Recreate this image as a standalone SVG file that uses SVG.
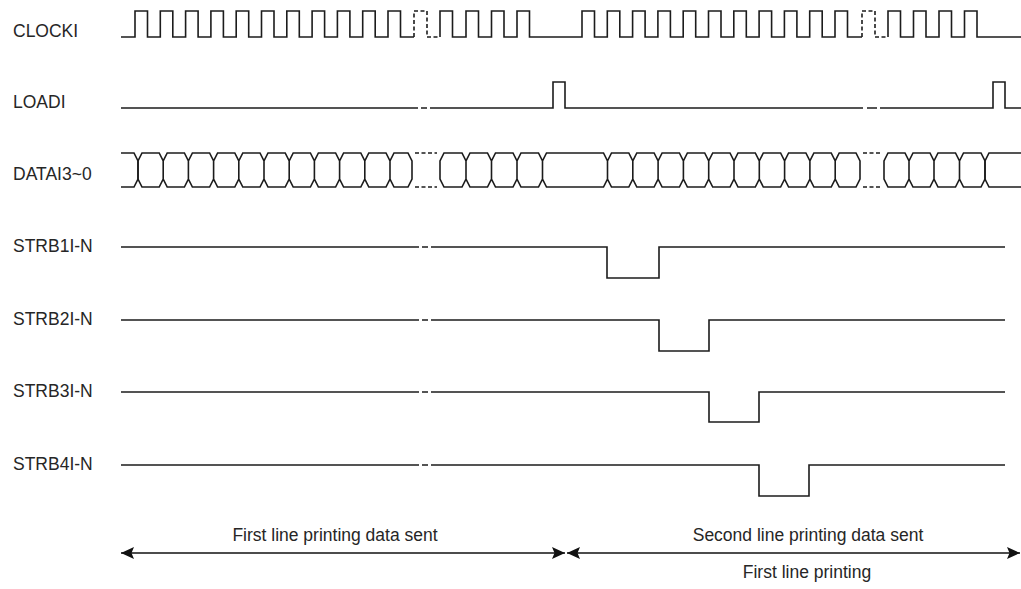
<svg xmlns="http://www.w3.org/2000/svg" width="1021" height="589" viewBox="0 0 1021 589">
<defs>
<style>
.lbl{font-family:"Liberation Sans",Arial,sans-serif;font-size:17.5px;fill:#262626}
.sig{fill:none;stroke:#1c1c1c;stroke-width:1.6;stroke-linejoin:miter}
.dash{fill:none;stroke:#1c1c1c;stroke-width:1.6;stroke-dasharray:4 2.5}
.arr{fill:none;stroke:#111;stroke-width:1.6}
</style>
<marker id="ah" markerWidth="14" markerHeight="12" refX="13" refY="6" orient="auto-start-reverse" markerUnits="userSpaceOnUse">
<path d="M0,0 L13,6 L0,12 L2.5,6 Z" fill="#111"/>
</marker>
</defs>
<rect width="1021" height="589" fill="#fff"/>

<g id="clocki">
<text class="lbl" x="13" y="37">CLOCKI</text>
<path class="sig" d="M121,37 H135 V11 H147.5 V37 H160.3 V11 H172.8 V37 H185.6 V11 H198.1 V37 H210.9 V11 H223.4 V37 H236.2 V11 H248.7 V37 H261.5 V11 H274 V37 H286.8 V11 H299.3 V37 H312.1 V11 H324.6 V37 H337.4 V11 H349.9 V37 H362.7 V11 H375.2 V37 H388 V11 H400.5 V37 H414"/>
<path class="dash" d="M414,37 V11 H427 V37 H440"/>
<path class="sig" d="M440,37 V11 H452.5 V37 H466 V11 H478.5 V37 H491.5 V11 H504 V37 H517 V11 H529.5 V37 H582 V11 H594.5 V37 H607.3 V11 H619.8 V37 H632.6 V11 H645.1 V37 H657.9 V11 H670.4 V37 H683.2 V11 H695.7 V37 H708.5 V11 H721 V37 H733.8 V11 H746.3 V37 H759.1 V11 H771.6 V37 H784.4 V11 H796.9 V37 H809.7 V11 H822.2 V37 H835 V11 H847.5 V37 H862"/>
<path class="dash" d="M862,37 V11 H875 V37 H888"/>
<path class="sig" d="M888,37 V11 H900.5 V37 H913.5 V11 H926 V37 H939 V11 H951.5 V37 H964.5 V11 H977 V37 H1021"/>
</g>

<g id="loadi">
<text class="lbl" x="13" y="108">LOADI</text>
<path class="sig" d="M121,108 H418 M421,108 H427 M430,108 H553 V82 H565 V108 H863 M867,108 H877 M880,108 H993 V82 H1005 V108 H1021"/>
</g>

<g id="datai">
<text class="lbl" x="13" y="180">DATAI3~0</text>
<path class="sig" d="M121,153 H134 L138,161 V179 L134,187 H121"/>
<path class="sig" d="M142,153 H159.2 L163.2,161 V179 L159.2,187 H142 L138,179 V161Z M167.2,153 H184.4 L188.4,161 V179 L184.4,187 H167.2 L163.2,179 V161Z M192.4,153 H209.6 L213.6,161 V179 L209.6,187 H192.4 L188.4,179 V161Z M217.6,153 H234.8 L238.8,161 V179 L234.8,187 H217.6 L213.6,179 V161Z M242.8,153 H260 L264,161 V179 L260,187 H242.8 L238.8,179 V161Z M268,153 H285.2 L289.2,161 V179 L285.2,187 H268 L264,179 V161Z M293.2,153 H310.4 L314.4,161 V179 L310.4,187 H293.2 L289.2,179 V161Z M318.4,153 H335.6 L339.6,161 V179 L335.6,187 H318.4 L314.4,179 V161Z M343.6,153 H360.8 L364.8,161 V179 L360.8,187 H343.6 L339.6,179 V161Z M368.8,153 H386 L390,161 V179 L386,187 H368.8 L364.8,179 V161Z M394,153 H408 L412,161 V179 L408,187 H394 L390,179 V161Z"/>
<path class="dash" d="M415,153 H437 M415,187 H437"/>
<path class="sig" d="M444,153 H462 L466,161 V179 L462,187 H444 L440,179 V161Z M470,153 H487.5 L491.5,161 V179 L487.5,187 H470 L466,179 V161Z M495.5,153 H513 L517,161 V179 L513,187 H495.5 L491.5,179 V161Z M521,153 H538.5 L542.5,161 V179 L538.5,187 H521 L517,179 V161Z M546.5,153 H603.5 L607.5,161 V179 L603.5,187 H546.5 L542.5,179 V161Z M611.5,153 H628.8 L632.8,161 V179 L628.8,187 H611.5 L607.5,179 V161Z M636.8,153 H654.1 L658.1,161 V179 L654.1,187 H636.8 L632.8,179 V161Z M662.1,153 H679.4 L683.4,161 V179 L679.4,187 H662.1 L658.1,179 V161Z M687.4,153 H704.7 L708.7,161 V179 L704.7,187 H687.4 L683.4,179 V161Z M712.7,153 H730 L734,161 V179 L730,187 H712.7 L708.7,179 V161Z M738,153 H755.3 L759.3,161 V179 L755.3,187 H738 L734,179 V161Z M763.3,153 H780.6 L784.6,161 V179 L780.6,187 H763.3 L759.3,179 V161Z M788.6,153 H805.9 L809.9,161 V179 L805.9,187 H788.6 L784.6,179 V161Z M813.9,153 H831.2 L835.2,161 V179 L831.2,187 H813.9 L809.9,179 V161Z M839.2,153 H856 L860,161 V179 L856,187 H839.2 L835.2,179 V161Z"/>
<path class="dash" d="M863,153 H881 M863,187 H881"/>
<path class="sig" d="M888,153 H905 L909,161 V179 L905,187 H888 L884,179 V161Z M913,153 H930 L934,161 V179 L930,187 H913 L909,179 V161Z M938,153 H955.5 L959.5,161 V179 L955.5,187 H938 L934,179 V161Z M963.5,153 H981 L985,161 V179 L981,187 H963.5 L959.5,179 V161Z"/>
<path class="sig" d="M1021,153 H989 L985,161 V179 L989,187 H1021"/>
</g>

<g id="strb1">
<text class="lbl" x="13" y="252">STRB1I-N</text>
<path class="sig" d="M121,247 H419 M422,247 H428 M431,247 H607 V278 H659 V247 H1005"/>
</g>
<g id="strb2">
<text class="lbl" x="13" y="325">STRB2I-N</text>
<path class="sig" d="M121,320 H419 M422,320 H428 M431,320 H659 V351 H709 V320 H1005"/>
</g>
<g id="strb3">
<text class="lbl" x="13" y="397">STRB3I-N</text>
<path class="sig" d="M121,392 H419 M422,392 H428 M431,392 H709 V422 H759 V392 H1005"/>
</g>
<g id="strb4">
<text class="lbl" x="13" y="470">STRB4I-N</text>
<path class="sig" d="M121,465 H419 M422,465 H428 M431,465 H759 V496 H809 V465 H1005"/>
</g>

<g id="connectors">
<line class="arr" x1="121" y1="553" x2="565" y2="553" marker-start="url(#ah)" marker-end="url(#ah)"/>
<line class="arr" x1="567" y1="553" x2="1020" y2="553" marker-start="url(#ah)" marker-end="url(#ah)"/>
</g>
<g id="labels">
<text class="lbl" x="335" y="541" text-anchor="middle">First line printing data sent</text>
<text class="lbl" x="808" y="541" text-anchor="middle">Second line printing data sent</text>
<text class="lbl" x="807" y="578" text-anchor="middle">First line printing</text>
</g>
</svg>
